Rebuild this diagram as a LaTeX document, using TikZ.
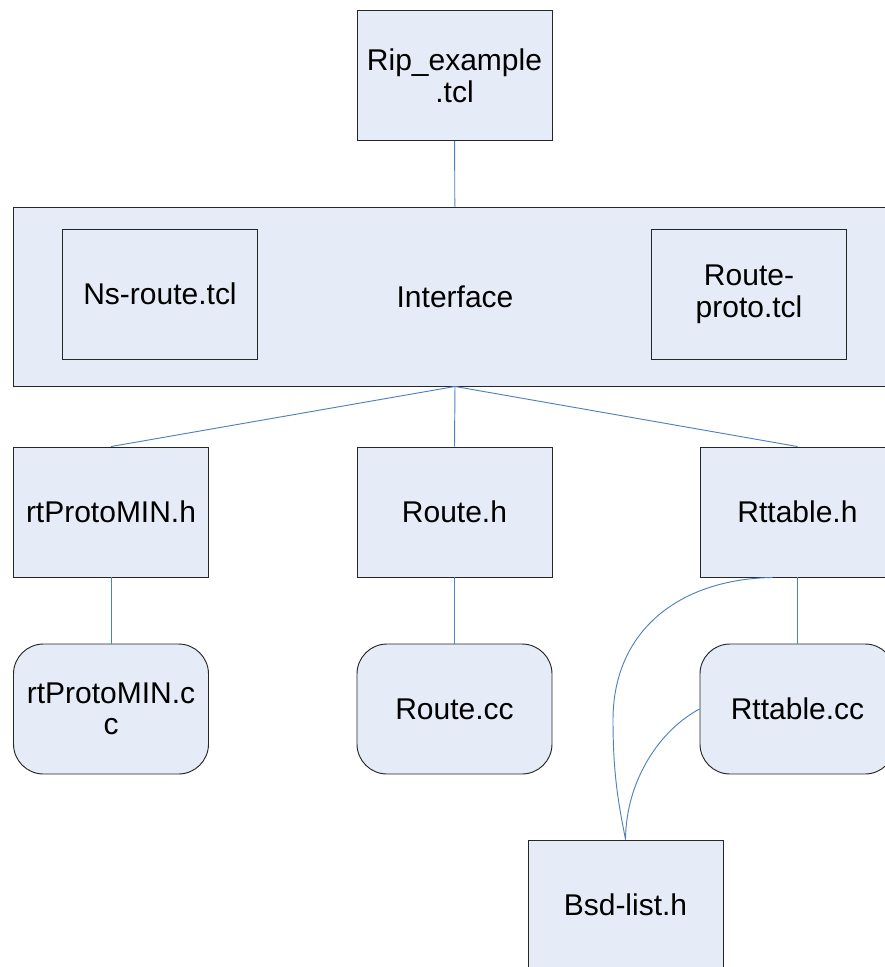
\documentclass[tikz,border=0pt]{standalone}
\usepackage{fontspec}
\setmainfont{Liberation Sans}
\usepackage{tikz}
\usepackage{xcolor}
\usetikzlibrary{calc}
\definecolor{boxfill}{RGB}{230,236,247}
\definecolor{linkblue}{RGB}{79,129,189}

\begin{document}
\begin{tikzpicture}[x=0.03cm, y=-0.03cm,
    every node/.style={draw=black!85, fill=boxfill, line width=0.8pt, align=center,
       font=\fontsize{25.6}{27}\selectfont, minimum width=5.85cm, minimum height=3.9cm, inner sep=0pt},
    ccbox/.style={rounded corners=0.9cm},
    link/.style={draw=linkblue, line width=0.8pt}]
    \useasboundingbox (0,0) rectangle (885,967);
    \clip (0,0) rectangle (885,967);
    \node (rip)   at (454.5,75.5) {Rip\_example\\.tcl};
    \node (iface) at (455,296.5)  [minimum width=26.52cm, minimum height=5.37cm] {Interface};
    \node (nsr)   at (160,294)    {Ns-route.tcl};
    \node (rpt)   at (749,294)    {Route-\\proto.tcl};
    \node (rph)   at (111,512)    {rtProtoMIN.h};
    \node (rh)    at (454.5,512)  {Route.h};
    \node (rth)   at (797.5,512)  {Rttable.h};
    \node (rpc)   at (111,709)    [ccbox] {rtProtoMIN.c\\c};
    \node (rc)    at (454.5,709)  [ccbox] {Route.cc};
    \node (rtc)   at (797.5,709)  [ccbox] {Rttable.cc};
    \node (bsd)   at (625.5,905)  {Bsd-list.h};
    \draw[link] (rip)--(iface);
    \draw[link] (iface.south)--(rph.north);  \draw[link] (iface.south)--(rh.north);  \draw[link] (iface.south)--(rth.north);
    \draw[link] (rph)--(rpc);  \draw[link] (rh)--(rc);  \draw[link] (rth)--(rtc);
    \draw[link] ($(rth.south)+(-25,0)$) .. controls (680,579) and (613,630) .. (613,720)
                .. controls (613,780) and (620,810) .. (bsd.north);
    \draw[link] (rtc.west) .. controls (660,730) and (626,780) .. (bsd.north);
  \end{tikzpicture}
\end{document}
